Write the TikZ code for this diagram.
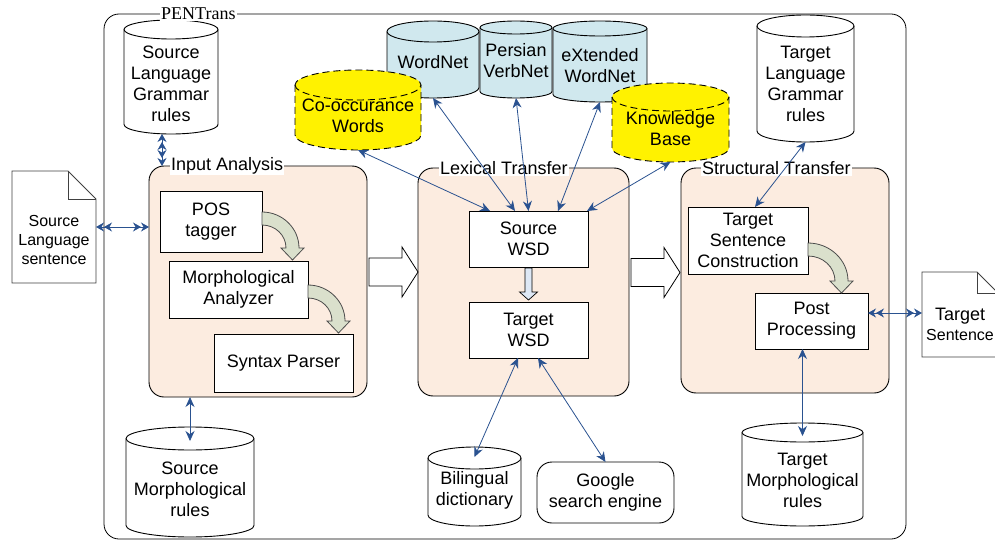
\documentclass[tikz,border=0pt]{standalone}
\usepackage{fontspec}
\setmainfont{Liberation Sans}
\newfontfamily\pentransfont{Liberation Serif}
\usepackage{xcolor}
\usepackage{tikz}
\usetikzlibrary{arrows.meta,calc,positioning}
\definecolor{linkblue}{HTML}{2A5290}
\definecolor{peach}{HTML}{FCECE0}
\definecolor{iceblue}{HTML}{D0E8EE}
\definecolor{sage}{HTML}{DAE0CC}
\definecolor{paleblue}{HTML}{DEE8F5}
\tikzset{
  txt/.style = {font=\fontsize{18}{21}\selectfont, align=center},
  frame/.style = {draw, rounded corners=15pt, line width=0.8pt, outer sep=0pt},
  group/.style = {draw, fill=peach, rounded corners=15pt, line width=0.9pt,
    outer sep=0pt},% grands blocs
  grouplabel/.style = {txt, fill=white, inner sep=1pt, anchor=west},
  box/.style = {txt, draw, fill=white, line width=0.9pt, inner sep=0pt,
    outer sep=0pt},
  db/.style = {draw, fill=white, line width=0.9pt},% base
  lexdb/.style = {db, fill=iceblue},
  kdb/.style = {db, fill=yellow, dash pattern=on 7pt off 4pt},
  docline/.style = {draw=black!75, line width=0.9pt, fill=white},
  link/.style = {linkblue, line width=0.8pt,
    {Stealth[length=10pt,width=9pt]}-{Stealth[length=10pt,width=9pt]}},
  dlink/.style = {linkblue, line width=0.8pt,
    {Stealth[length=8pt,width=9pt]Stealth[length=8pt,width=9pt]}-{Stealth[length=8pt,width=9pt]Stealth[length=8pt,width=9pt]}},
  fat/.style = {draw, fill=white, line width=0.8pt},
  bendfill/.style = {draw=black!70, fill=sage, line width=0.8pt}
}
% base de donnees: style, nom, x centre, haut, largeur, hauteur, ry, decalage texte, texte
\newcommand\database[9]{%
  \begin{scope}[shift={(#3,#4)}]
  \path[#1] (-#5/2,#7) -- (-#5/2,#6-#7)
    .. controls (-#5/2,#6-0.45*#7) and (-0.55*#5/2,#6) .. (0,#6)
    .. controls (0.55*#5/2,#6) and (#5/2,#6-0.45*#7) .. (#5/2,#6-#7)
    -- (#5/2,#7) .. controls (#5/2,0.45*#7) and (0.55*#5/2,0) .. (0,0)
    .. controls (-0.55*#5/2,0) and (-#5/2,0.45*#7) .. cycle;
  \path[#1, fill=none] (-#5/2,#7) .. controls (-#5/2,1.55*#7) and (-0.55*#5/2,2*#7) .. (0,2*#7)
    .. controls (0.55*#5/2,2*#7) and (#5/2,1.55*#7) .. (#5/2,#7);
  \node[minimum width=#5, minimum height=#6, inner sep=0pt, outer sep=0pt] (#2) at (0,#6/2) {};
  \node[txt] (#2txt) at (0,#6/2+#8) {#9};
  \end{scope}}
% fleche courbe: depart, largeur, hauteur
\newcommand\bendarrow[3]{%
  \path[bendfill] #1 .. controls +(0.55*#2,0) and +(0,-0.55*#3) .. ++(#2,#3)
    -- ++(5,0) -- ++(-11.5,12) -- ++(-11.5,-12) -- ++(5,0)
    .. controls +(0,-0.55*#3+7) and +(0.55*#2-7,0) .. ++(13-#2,13-#3) -- cycle;}
% grosse fleche entre blocs
\newcommand\fatarrow[1]{%
  \path[fat] #1 -- ++(0,-14) -- ++(33,0) -- ++(0,-11) -- ++(16,25)
    -- ++(-16,25) -- ++(0,-11) -- ++(-33,0) -- cycle;}

\begin{document}
\begin{tikzpicture}[x=1pt,y=-1pt]
\useasboundingbox (0,0) rectangle (995,540);

\node[frame, minimum width=802, minimum height=525] (pentrans) at (505,276.5) {};

% blocs
\node[group, minimum width=218, minimum height=231] (input) at (258,281.5) {};
\node[group, minimum width=211, minimum height=228] (lexical) at (523.5,282) {};
\node[group, minimum width=208, minimum height=225] (structural) at (785,280.5) {};
\node[grouplabel] (inputlbl) at ([xshift=21pt]input.north west) {Input Analysis};
\node[grouplabel] (lexicallbl) at ([xshift=21pt]lexical.north west) {Lexical Transfer};
\node[grouplabel] (structurallbl) at ([xshift=20pt]structural.north west) {Structural Transfer};

% analyse
\node[box, minimum width=102, minimum height=61] (pos) at (211,221.5) {POS\\tagger};
\node[box, minimum width=139, minimum height=57] (morph) at (238.5,289.5) {Morphological\\Analyzer};
\node[box, minimum width=139, minimum height=58] (syntax) at (283.5,363) {Syntax Parser};
\bendarrow{([yshift=9.5pt]pos.east)}{37}{36}
\bendarrow{([yshift=4.5pt]morph.east)}{37}{36}

% transfert lexical
\node[box, minimum width=119, minimum height=56] (swsd) at (528.5,239) {Source\\WSD};
\node[box, minimum width=119, minimum height=56] (twsd) at (528.5,330) {Target\\WSD};
\path[fill=paleblue, draw, line width=0.7pt] ([xshift=-3.5pt,yshift=-1pt]swsd.south)
  -- ++(0,24) -- ++(-5.5,0) -- ++(9,8) -- ++(9,-8) -- ++(-5.5,0) -- ++(0,-24) -- cycle;

% transfert structurel
\node[box, minimum width=120, minimum height=67] (tsc) at (748,240.5) {Target\\Sentence\\Construction};
\node[box, minimum width=113, minimum height=56] (post) at (811.5,321) {Post\\Processing};
\bendarrow{([yshift=-2.5pt]tsc.east)}{40}{38}

\fatarrow{([xshift=2pt,yshift=9.5pt]input.east)}
\fatarrow{([xshift=2pt,yshift=9.5pt]lexical.east)}

% bases
\database{db}{srcgram}{171}{20}{94}{114}{9.5}{6.5}{Source\\Language\\Grammar\\rules}
\database{db}{srcmorph}{190}{427}{128}{110}{11.5}{7}{Source\\Morphological\\rules}
\database{lexdb}{wordnet}{433}{21}{92}{77}{10.5}{2.5}{WordNet}
\database{lexdb}{persvn}{516}{21}{72}{77}{6.5}{1.5}{Persian\\VerbNet}
\database{lexdb}{xwn}{600}{21}{94}{81}{7.5}{4}{eXtended\\WordNet}
\database{kdb}{cooc}{358}{70}{126}{80}{15}{6}{Co-occurance\\Words}
\database{kdb}{kbase}{670.5}{83}{117}{79}{14}{6}{Knowledge\\Base}
\database{db}{tgtgram}{805.5}{15}{97}{127}{11}{5}{Target\\Language\\Grammar\\rules}
\database{db}{tgtmorph}{802.5}{423}{121}{103}{9.5}{5.5}{Target\\Morphological\\rules}
\database{db}{biling}{474.5}{447}{93}{79}{11}{3.5}{Bilingual\\dictionary}
\node[box, rounded corners=15pt, minimum width=137, minimum height=61] (google) at (605.5,492.5) {Google\\search engine};

% documents
\node[minimum width=84, minimum height=112, outer sep=0pt] (srcdoc) at (54,227) {};
\path[docline] (srcdoc.north west) -- ([xshift=-28pt]srcdoc.north east)
  -- ([yshift=-28pt]srcdoc.north east) -- (srcdoc.south east) -- (srcdoc.south west) -- cycle;
\draw[docline, fill=none] ([xshift=-28pt]srcdoc.north east) |- ([yshift=-28pt]srcdoc.north east);
\node[font=\fontsize{16}{19}\selectfont, align=center] (srcdoctxt)
  at ([yshift=-13pt]srcdoc.center) {Source\\Language\\sentence};

\node[minimum width=76, minimum height=85, outer sep=0pt] (tgtdoc) at (960,314.5) {};
\path[docline] (tgtdoc.north west) -- ([xshift=-21pt]tgtdoc.north east)
  -- ([yshift=-21pt]tgtdoc.north east) -- (tgtdoc.south east) -- (tgtdoc.south west) -- cycle;
\draw[docline, fill=none] ([xshift=-21pt]tgtdoc.north east) |- ([yshift=-21pt]tgtdoc.north east);
\node[txt] (tgtdoctxt) at ([yshift=-10pt]tgtdoc.center)
  {Target\\[-1pt]\fontsize{16}{19}\selectfont Sentence};

% liaisons
\draw[dlink] (srcdoc.east) -- (srcdoc.east -| input.west);
\draw[dlink] ([xshift=-9pt]srcgram.south) -- ([xshift=-9pt]srcgram.south |- input.north);
\draw[link] (srcmorph.north |- input.south) -- ([yshift=-14pt]srcmorph.north);
\draw[link] (cooc.south) -- ([xshift=-38.5pt]swsd.north);
\draw[link] (wordnet.south) -- ([xshift=-13.5pt]swsd.north);
\draw[link] (persvn.south) -- (swsd.north);
\draw[link] (xwn.south) -- ([xshift=29.5pt]swsd.north);
\draw[link] (kbase.south) -- ([xshift=-1pt]swsd.north east);
\draw[link] ([xshift=-10.5pt]twsd.south) -- ([yshift=-10pt]biling.north);
\draw[link] ([xshift=9.5pt]twsd.south) -- (google.north);
\draw[link] (tgtgram.south) -- ([xshift=7pt]tsc.north);
\draw[link] (post.south -| tgtmorph.north) -- ([yshift=-13pt]tgtmorph.north);
\draw[dlink] ([yshift=8pt]post.east) -- ([yshift=8pt]post.east -| tgtdoc.west);

\node[fill=white, inner sep=1pt, anchor=west, font=\pentransfont\fontsize{18}{20}\selectfont]
  (pentranslbl) at ([xshift=56pt]pentrans.north west) {PENTrans};
\end{tikzpicture}
\end{document}
